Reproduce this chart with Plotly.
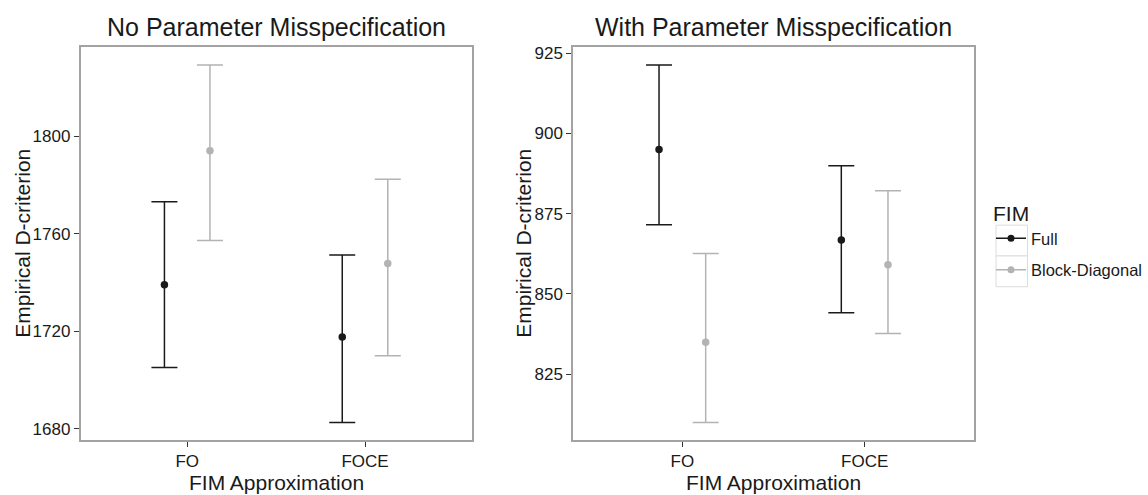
import plotly.graph_objects as go

# FIM approximation methods (x categories) and FIM structure (series)
methods = ["FO", "FOCE"]
fim_types = ["Full", "Block-Diagonal"]

# Panel 1: no parameter misspecification -- mean and interval bounds
no_mis_mean = {"Full": [1739.1, 1717.7], "Block-Diagonal": [1794.1, 1747.8]}
no_mis_lower = {"Full": [1705.1, 1682.6], "Block-Diagonal": [1757.2, 1710.0]}
no_mis_upper = {"Full": [1773.1, 1751.3], "Block-Diagonal": [1829.2, 1782.4]}
no_mis_ticks = [1680, 1720, 1760, 1800]

# Panel 2: with parameter misspecification
with_mis_mean = {"Full": [895.0, 866.8], "Block-Diagonal": [834.9, 859.1]}
with_mis_lower = {"Full": [871.5, 844.1], "Block-Diagonal": [809.9, 837.6]}
with_mis_upper = {"Full": [921.3, 889.9], "Block-Diagonal": [862.6, 882.1]}
with_mis_ticks = [825, 850, 875, 900, 925]

panel_titles = ["No Parameter Misspecification", "With Parameter Misspecification"]
y_title = "Empirical D-criterion"
x_title = "FIM Approximation"
legend_title = "FIM"

# styling
W, H = 1148, 495
colors = {"Full": "#1a1a1a", "Block-Diagonal": "#b3b3b3"}
dodge = {"Full": -0.128, "Block-Diagonal": 0.128}
FONT = "Liberation Sans, Arial, sans-serif"
TEXT = "#1a1a1a"
BORDER = "#a3a3a3"
KEY_BORDER = "#dcdcdc"

# panel boxes in pixels (left, right, top, bottom)
panels = [(80.5, 471.7, 44.5, 440.0), (573.0, 974.0, 44.5, 440.0)]

# legend key background boxes (pixels): left, right, first top, key height
KEY_L, KEY_R, KEY_TOP, KEY_H = 996.0, 1027.5, 223.5, 31.0


def px_x(p):
    return p / W


def px_y(p):
    return 1 - p / H


def padded_range(lower, upper, frac=0.05):
    lo = min(min(v) for v in lower.values())
    hi = max(max(v) for v in upper.values())
    pad = (hi - lo) * frac
    return [lo - pad, hi + pad]


fig = go.Figure()

datasets = [
    (no_mis_mean, no_mis_lower, no_mis_upper, no_mis_ticks),
    (with_mis_mean, with_mis_lower, with_mis_upper, with_mis_ticks),
]

for i, (mean, lower, upper, ticks) in enumerate(datasets):
    xa = "x" if i == 0 else "x2"
    ya = "y" if i == 0 else "y2"
    for fim in fim_types:
        xs = [k + 1 + dodge[fim] for k in range(len(methods))]
        fig.add_trace(go.Scatter(
            x=xs, y=mean[fim], xaxis=xa, yaxis=ya,
            mode="markers",
            name=fim, legendgroup=fim, showlegend=False,
            marker=dict(color=colors[fim], size=7.5),
            error_y=dict(
                type="data", symmetric=False,
                array=[u - m for u, m in zip(upper[fim], mean[fim])],
                arrayminus=[m - l for m, l in zip(mean[fim], lower[fim])],
                color=colors[fim], thickness=1.5, width=13,
            ),
            hoverinfo="x+y",
        ))

# legend entries (line + point glyph like the key)
for fim in fim_types:
    fig.add_trace(go.Scatter(
        x=[None], y=[None], mode="lines+markers", name=fim, legendgroup=fim,
        line=dict(color=colors[fim], width=1.5),
        marker=dict(color=colors[fim], size=7),
        showlegend=True,
    ))

axis_common = dict(
    showgrid=False, zeroline=False,
    showline=True, mirror=True, linecolor=BORDER, linewidth=1.5,
    ticks="outside", ticklen=5, tickwidth=1, tickcolor="#333333",
    tickfont=dict(family=FONT, size=17, color=TEXT),
)

layout = dict(
    width=W, height=H,
    margin=dict(l=0, r=0, t=0, b=0),
    paper_bgcolor="white", plot_bgcolor="white",
    font=dict(family=FONT, color=TEXT),
    showlegend=True,
    legend=dict(
        title=dict(text=legend_title, font=dict(family=FONT, size=21, color=TEXT)),
        font=dict(family=FONT, size=16.5, color=TEXT),
        x=px_x(991), xanchor="left", y=px_y(192), yanchor="top",
        bgcolor="rgba(0,0,0,0)", tracegroupgap=7,
        traceorder="grouped",
    ),
)

annotations = []
shapes = []
for i, ((l, r, t, b), (mean, lower, upper, ticks)) in enumerate(zip(panels, datasets)):
    sfx = "" if i == 0 else "2"
    layout["xaxis" + sfx] = dict(
        axis_common, domain=[px_x(l), px_x(r)], range=[0.4, 2.6],
        tickvals=[k + 1 for k in range(len(methods))], ticktext=methods,
        anchor="y" + sfx,
    )
    layout["yaxis" + sfx] = dict(
        axis_common, domain=[px_y(b), px_y(t)], range=padded_range(lower, upper),
        tickvals=ticks, ticktext=[str(v) for v in ticks],
        anchor="x" + sfx,
    )
    cx = (l + r) / 2
    annotations.append(dict(
        text=panel_titles[i], x=px_x(cx), y=px_y(24.5), xref="paper", yref="paper",
        xanchor="center", yanchor="middle", showarrow=False,
        font=dict(family=FONT, size=25, color=TEXT),
    ))
    annotations.append(dict(
        text=x_title, x=px_x(cx), y=px_y(482), xref="paper", yref="paper",
        xanchor="center", yanchor="middle", showarrow=False,
        font=dict(family=FONT, size=21, color=TEXT),
    ))
    y_title_x = 23 if i == 0 else 524
    annotations.append(dict(
        text=y_title, x=px_x(y_title_x), y=px_y((t + b) / 2), xref="paper", yref="paper",
        xanchor="center", yanchor="middle", showarrow=False, textangle=-90,
        font=dict(family=FONT, size=21, color=TEXT),
    ))

# light boxes behind each legend key
for k, _ in enumerate(fim_types):
    top = KEY_TOP + k * KEY_H
    shapes.append(dict(
        type="rect", xref="paper", yref="paper", layer="below",
        x0=px_x(KEY_L), x1=px_x(KEY_R), y0=px_y(top + KEY_H), y1=px_y(top),
        line=dict(color=KEY_BORDER, width=1), fillcolor="white",
    ))

layout["annotations"] = annotations
layout["shapes"] = shapes
fig.update_layout(**layout)

fig.write_html("out.html")
